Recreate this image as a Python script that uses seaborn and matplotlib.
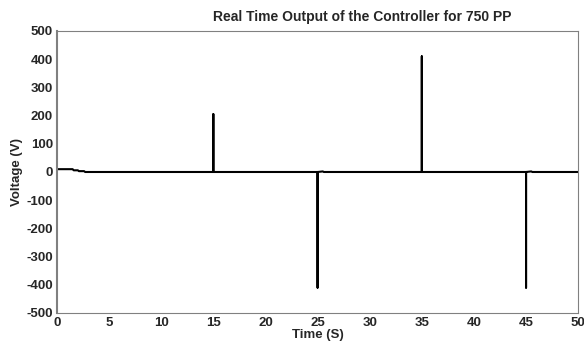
import matplotlib
matplotlib.use("Agg")
import matplotlib.pyplot as plt
import seaborn as sns
import pandas as pd

# controller output (spikes are drawn as vertical lines)
time_s = [0, 1.5, 1.6, 2.0, 2.1, 2.6, 2.7, 15, 15, 15, 25, 25, 25, 25.5, 25.6,
          35, 35, 35, 45, 45, 45, 45.5, 45.6, 50]
voltage = [10, 10, 6, 6, 3, 3, 0, 0, 205, 0, 0, -410, 0, 2, 0,
           0, 410, 0, 0, -410, 0, 2, 0, 0]

xticks = list(range(0, 51, 5))
yticks = list(range(-500, 501, 100))

df = pd.DataFrame({"Time": time_s, "Voltage": voltage})

sns.set_style("white")
plt.rcParams["font.family"] = ["Liberation Sans", "DejaVu Sans"]
plt.rcParams["font.weight"] = "bold"
plt.rcParams["axes.unicode_minus"] = False

fig = plt.figure(figsize=(5.84, 3.47), dpi=100)
ax = fig.add_axes([0.0976, 0.098, 0.8924, 0.8127])
sns.lineplot(data=df, x="Time", y="Voltage", estimator=None, sort=False,
             color="black", linewidth=1.5, ax=ax)

ax.set_xlim(0, 50)
ax.set_ylim(-500, 500)
ax.set_xticks(xticks)
ax.set_yticks(yticks)
ax.tick_params(direction="in", length=3, width=0.8, color="#808080",
               labelsize=9.5, pad=3)
for lab in ax.get_xticklabels() + ax.get_yticklabels():
    lab.set_fontweight("bold")
for sp in ax.spines.values():
    sp.set_color("#808080")
    sp.set_linewidth(0.8)
    sp.set_visible(True)
ax.spines["left"].set_linewidth(1.5)

ax.set_title("Real Time Output of the Controller for 750 PP", fontsize=10,
             fontweight="bold", pad=7, x=0.585)
ax.set_xlabel("Time (S)", fontsize=9.5, fontweight="bold", labelpad=0)
ax.set_ylabel("Voltage (V)", fontsize=9.5, fontweight="bold", labelpad=2)

fig.savefig("out.png", dpi=100)
